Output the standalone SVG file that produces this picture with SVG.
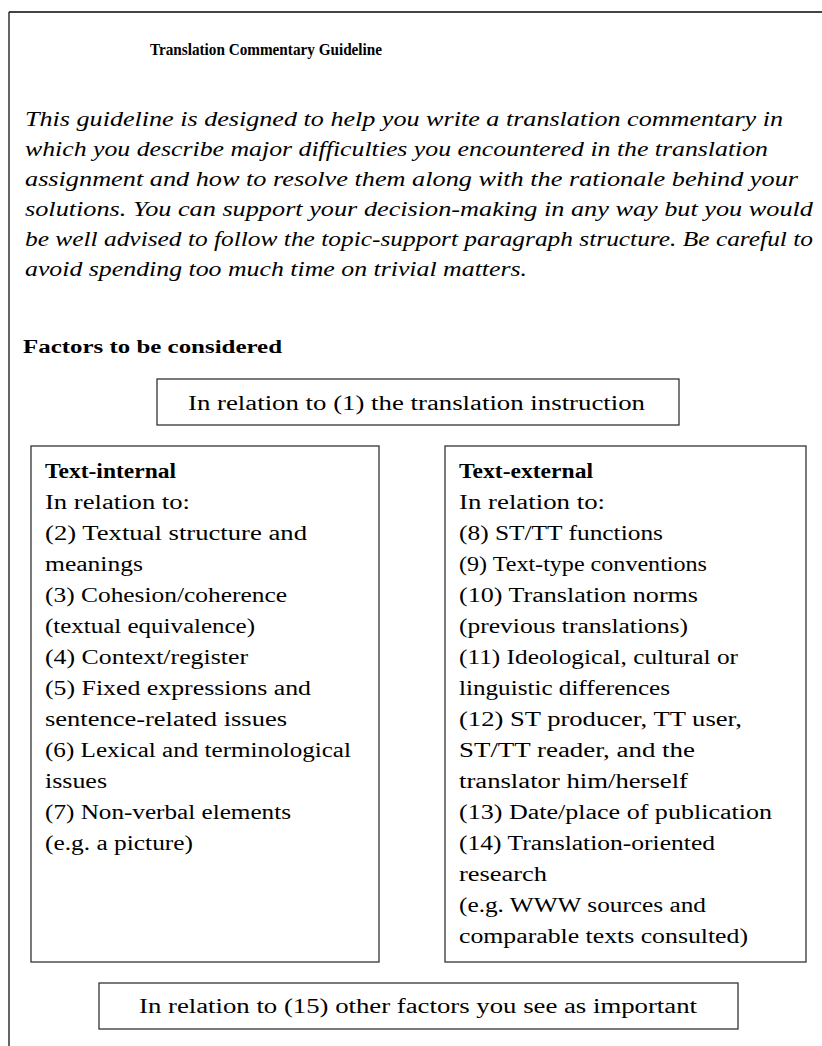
<svg xmlns="http://www.w3.org/2000/svg" width="822" height="1046" viewBox="0 0 822 1046">
<style>
.t{font-family:"Liberation Serif","DejaVu Serif",serif;fill:#000}
.b{font-weight:bold}
.i{font-style:italic;font-size:20px}
.n{font-size:20px}
.box{fill:#fff;stroke:#333;stroke-width:1.3}
</style>
<rect width="822" height="1046" fill="#fff"/>
<g id="frame">
<line x1="9" y1="12" x2="822" y2="12" stroke="#444" stroke-width="2"/>
<line x1="9" y1="12" x2="9" y2="1046" stroke="#111" stroke-width="1.3"/>
</g>
<g id="title">
<text class="t b" x="150" y="55" font-size="17.5" textLength="232" lengthAdjust="spacingAndGlyphs">Translation Commentary Guideline</text>
</g>
<g id="intro">
<text class="t i" x="25" y="126" textLength="758" lengthAdjust="spacingAndGlyphs">This guideline is designed to help you write a translation commentary in</text>
<text class="t i" x="25" y="156" textLength="743" lengthAdjust="spacingAndGlyphs">which you describe major difficulties you encountered in the translation</text>
<text class="t i" x="25" y="186" textLength="773" lengthAdjust="spacingAndGlyphs">assignment and how to resolve them along with the rationale behind your</text>
<text class="t i" x="25" y="216" textLength="788" lengthAdjust="spacingAndGlyphs">solutions. You can support your decision-making in any way but you would</text>
<text class="t i" x="25" y="246" textLength="788" lengthAdjust="spacingAndGlyphs">be well advised to follow the topic-support paragraph structure. Be careful to</text>
<text class="t i" x="25" y="276" textLength="502" lengthAdjust="spacingAndGlyphs">avoid spending too much time on trivial matters.</text>
</g>
<g id="factors-heading">
<text class="t b" x="23" y="353" font-size="18" textLength="259" lengthAdjust="spacingAndGlyphs">Factors to be considered</text>
</g>
<g id="connectors"></g>
<g id="node-instruction">
<rect class="box" x="157" y="379" width="522" height="46"/>
<text class="t n" x="188" y="410" textLength="457" lengthAdjust="spacingAndGlyphs">In relation to (1) the translation instruction</text>
</g>
<g id="node-text-internal">
<rect class="box" x="31" y="446" width="348" height="516"/>
<text class="t n b" x="45" y="478" textLength="131" lengthAdjust="spacingAndGlyphs">Text-internal</text>
<text class="t n" x="45" y="509" textLength="145" lengthAdjust="spacingAndGlyphs">In relation to:</text>
<text class="t n" x="45" y="540" textLength="262" lengthAdjust="spacingAndGlyphs">(2) Textual structure and</text>
<text class="t n" x="45" y="571" textLength="98" lengthAdjust="spacingAndGlyphs">meanings</text>
<text class="t n" x="45" y="602" textLength="242" lengthAdjust="spacingAndGlyphs">(3) Cohesion/coherence</text>
<text class="t n" x="45" y="633" textLength="210" lengthAdjust="spacingAndGlyphs">(textual equivalence)</text>
<text class="t n" x="45" y="664" textLength="203" lengthAdjust="spacingAndGlyphs">(4) Context/register</text>
<text class="t n" x="45" y="695" textLength="266" lengthAdjust="spacingAndGlyphs">(5) Fixed expressions and</text>
<text class="t n" x="45" y="726" textLength="242" lengthAdjust="spacingAndGlyphs">sentence-related issues</text>
<text class="t n" x="45" y="757" textLength="306" lengthAdjust="spacingAndGlyphs">(6) Lexical and terminological</text>
<text class="t n" x="45" y="788" textLength="62" lengthAdjust="spacingAndGlyphs">issues</text>
<text class="t n" x="45" y="819" textLength="246" lengthAdjust="spacingAndGlyphs">(7) Non-verbal elements</text>
<text class="t n" x="45" y="850" textLength="148" lengthAdjust="spacingAndGlyphs">(e.g. a picture)</text>
</g>
<g id="node-text-external">
<rect class="box" x="445" y="446" width="361" height="516"/>
<text class="t n b" x="459" y="478" textLength="134" lengthAdjust="spacingAndGlyphs">Text-external</text>
<text class="t n" x="459" y="509" textLength="146" lengthAdjust="spacingAndGlyphs">In relation to:</text>
<text class="t n" x="459" y="540" textLength="204" lengthAdjust="spacingAndGlyphs">(8) ST/TT functions</text>
<text class="t n" x="459" y="571" textLength="248" lengthAdjust="spacingAndGlyphs">(9) Text-type conventions</text>
<text class="t n" x="459" y="602" textLength="239" lengthAdjust="spacingAndGlyphs">(10) Translation norms</text>
<text class="t n" x="459" y="633" textLength="229" lengthAdjust="spacingAndGlyphs">(previous translations)</text>
<text class="t n" x="459" y="664" textLength="279" lengthAdjust="spacingAndGlyphs">(11) Ideological, cultural or</text>
<text class="t n" x="459" y="695" textLength="211" lengthAdjust="spacingAndGlyphs">linguistic differences</text>
<text class="t n" x="459" y="726" textLength="283" lengthAdjust="spacingAndGlyphs">(12) ST producer, TT user,</text>
<text class="t n" x="459" y="757" textLength="236" lengthAdjust="spacingAndGlyphs">ST/TT reader, and the</text>
<text class="t n" x="459" y="788" textLength="229" lengthAdjust="spacingAndGlyphs">translator him/herself</text>
<text class="t n" x="459" y="819" textLength="313" lengthAdjust="spacingAndGlyphs">(13) Date/place of publication</text>
<text class="t n" x="459" y="850" textLength="256" lengthAdjust="spacingAndGlyphs">(14) Translation-oriented</text>
<text class="t n" x="459" y="881" textLength="88" lengthAdjust="spacingAndGlyphs">research</text>
<text class="t n" x="459" y="912" textLength="247" lengthAdjust="spacingAndGlyphs">(e.g. WWW sources and</text>
<text class="t n" x="459" y="943" textLength="289" lengthAdjust="spacingAndGlyphs">comparable texts consulted)</text>
</g>
<g id="node-other">
<rect class="box" x="99" y="983" width="639" height="46"/>
<text class="t n" x="139" y="1013" textLength="558" lengthAdjust="spacingAndGlyphs">In relation to (15) other factors you see as important</text>
</g>
</svg>
